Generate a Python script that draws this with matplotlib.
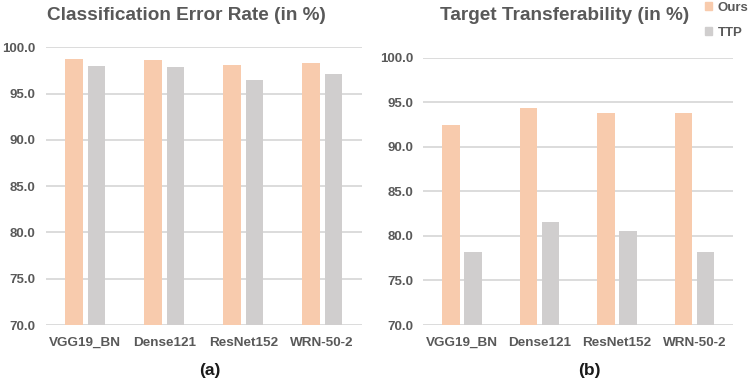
import numpy as np
import matplotlib.pyplot as plt
from matplotlib.patches import Patch

plt.rcParams['font.family'] = ['Liberation Sans', 'DejaVu Sans']
plt.rcParams['font.weight'] = 'bold'

models = ['VGG19_BN', 'Dense121', 'ResNet152', 'WRN-50-2']
series = ['Ours', 'TTP']

err_ours = [98.7, 98.6, 98.1, 98.3]
err_ttp = [98.0, 97.9, 96.5, 97.1]

tr_ours = [92.4, 94.4, 93.8, 93.8]
tr_ttp = [78.2, 81.6, 80.5, 78.2]

ORANGE = '#F8CBAD'
GRAY = '#D0CECE'
TEXT = '#595959'
GRID = '#D9D9D9'

W, H = 748, 380
fig = plt.figure(figsize=(W / 100, H / 100), dpi=100)
ax1 = fig.add_axes([45.7 / W, 1 - 325 / H, 316 / W, 277.7 / H])
ax2 = fig.add_axes([423.3 / W, 1 - 325 / H, 309.7 / W, 267.3 / H])


def panel(ax, ours, ttp):
    x = np.arange(len(models))
    w = 0.225
    off = 0.1425
    ax.bar(x - off, ours, w, color=ORANGE, zorder=3)
    ax.bar(x + off, ttp, w, color=GRAY, zorder=3)
    ax.set_ylim(70, 100)
    ax.set_xlim(-0.5, len(models) - 0.5)
    ticks = np.arange(70, 100.1, 5)
    ax.set_yticks(ticks)
    ax.set_yticklabels(['%.1f' % v for v in ticks])
    ax.set_xticks(x)
    ax.set_xticklabels(models)
    ax.tick_params(length=0, labelsize=9.5, labelcolor=TEXT)
    ax.tick_params(axis='y', pad=7.5)
    ax.tick_params(axis='x', pad=8.5, labelsize=9.7)
    for s in ax.spines.values():
        s.set_visible(False)
    ax.grid(axis='y', color=GRID, linewidth=1.3, zorder=0)
    ax.set_axisbelow(True)


panel(ax1, err_ours, err_ttp)
panel(ax2, tr_ours, tr_ttp)

fig.text(186 / W, 1 - 20 / H, 'Classification Error Rate (in %)', ha='center',
         va='baseline', fontsize=13.7, color=TEXT, fontweight='bold')
fig.text(564.5 / W, 1 - 20 / H, 'Target Transferability (in %)', ha='center',
         va='baseline', fontsize=13.7, color=TEXT, fontweight='bold')
fig.text(210 / W, 1 - 370 / H, '(a)', ha='center', va='center',
         fontsize=12.5, color='#1a1a1a', fontweight='bold')
fig.text(589 / W, 1 - 370 / H, '(b)', ha='center', va='center',
         fontsize=12.5, color='#1a1a1a', fontweight='bold')

handles = [Patch(color=ORANGE), Patch(color=GRAY)]
fig.legend(handles, series, loc='upper left',
           bbox_to_anchor=(705 / W, 1 - 2 / H),
           frameon=False, fontsize=9.5, labelcolor=TEXT, handlelength=0.55,
           handleheight=0.55, handletextpad=0.4, labelspacing=0.95,
           borderpad=0, borderaxespad=0)

fig.savefig('out.png', dpi=100)
